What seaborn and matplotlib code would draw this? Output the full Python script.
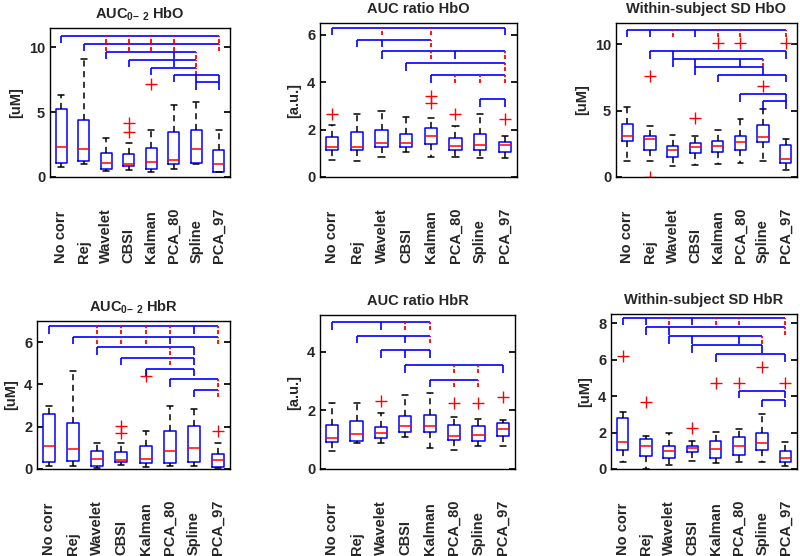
import numpy as np
import pandas as pd
import matplotlib
matplotlib.use("Agg")
import matplotlib.pyplot as plt
import seaborn as sns

methods = ["No corr", "Rej", "Wavelet", "CBSI", "Kalman", "PCA_80", "Spline", "PCA_97"]

# box summaries per method: [low whisker, q1, median, q3, high whisker]
auc_hbo_box = [[0.75, 1.10, 2.31, 5.26, 6.30], [1.00, 1.20, 2.13, 4.41, 9.10],
               [0.46, 0.64, 1.10, 1.85, 3.00], [0.56, 0.85, 1.00, 1.77, 2.64],
               [0.38, 0.64, 1.13, 2.26, 3.64], [0.59, 0.97, 1.33, 3.46, 5.56],
               [0.97, 1.08, 2.13, 3.59, 5.77], [0.35, 0.38, 1.03, 2.05, 3.59]]
auc_hbo_out = [[], [], [], [4.15, 3.46], [7.15], [], [], []]

ratio_hbo_box = [[0.73, 1.12, 1.28, 1.70, 2.20], [0.67, 1.12, 1.26, 1.92, 2.65],
                 [0.86, 1.28, 1.44, 2.00, 2.79], [1.05, 1.26, 1.44, 1.80, 2.54],
                 [0.86, 1.39, 1.72, 2.06, 2.51], [0.86, 1.12, 1.32, 1.63, 2.16],
                 [0.80, 1.12, 1.37, 1.81, 2.65], [0.81, 1.05, 1.35, 1.49, 1.74]]
ratio_hbo_out = [[2.65], [], [], [], [3.42, 3.11], [2.65], [], [2.44]]

sd_hbo_box = [[1.24, 2.69, 3.11, 3.98, 5.30], [1.24, 2.06, 2.86, 3.06, 3.86],
              [0.82, 1.47, 2.06, 2.36, 3.18], [0.87, 1.79, 2.24, 2.54, 3.11],
              [1.00, 1.92, 2.31, 2.74, 3.56], [1.07, 2.04, 2.66, 3.06, 4.40],
              [1.24, 2.61, 2.99, 3.91, 5.10], [0.50, 1.02, 1.34, 2.41, 2.86]]
sd_hbo_out = [[], [7.59, 0.0], [], [4.48], [10.12], [10.12], [6.89], [10.12]]

auc_hbr_box = [[0.14, 0.32, 1.09, 2.60, 2.96], [0.14, 0.40, 0.95, 2.17, 4.62],
               [0.06, 0.16, 0.46, 0.87, 1.22], [0.19, 0.35, 0.43, 0.82, 1.25],
               [0.08, 0.27, 0.46, 1.09, 1.80], [0.14, 0.30, 0.85, 1.82, 2.96],
               [0.14, 0.32, 0.98, 2.04, 2.83], [0.03, 0.11, 0.43, 0.71, 1.25]]
auc_hbr_out = [[], [], [], [2.04, 1.69], [4.38], [], [], [1.82]]

ratio_hbr_box = [[0.61, 0.93, 1.06, 1.49, 2.25], [0.87, 0.95, 1.21, 1.63, 2.25],
                 [0.87, 1.07, 1.24, 1.44, 1.91], [1.10, 1.27, 1.47, 1.81, 2.53],
                 [0.72, 1.27, 1.47, 1.85, 2.60], [0.64, 0.98, 1.12, 1.49, 1.77],
                 [0.79, 0.95, 1.15, 1.48, 1.72], [0.79, 1.13, 1.38, 1.57, 1.66]]
ratio_hbr_out = [[], [], [2.32], [], [], [2.25], [2.25], [2.47]]

sd_hbr_box = [[0.40, 1.05, 1.49, 2.82, 3.10], [0.00, 0.73, 1.27, 1.64, 1.82],
              [0.22, 0.58, 1.00, 1.24, 2.00], [0.45, 0.91, 1.13, 1.24, 1.55],
              [0.31, 0.58, 1.09, 1.55, 2.04], [0.40, 0.76, 1.24, 1.73, 2.22],
              [0.40, 1.05, 1.42, 1.96, 3.00], [0.18, 0.40, 0.58, 1.00, 1.49]]
sd_hbr_out = [[6.22], [3.67], [], [2.24], [4.73], [4.73], [5.60], [4.73]]

# significance brackets: (height, mark per method: b = blue, r = red, . = none)
auc_hbo_sig = [(10.9, "b.rrrr.r"), (10.3, ".brrrr.r"), (9.65, "..b..br."),
               (9.05, "...b.br."), (8.45, "....b.r."), (7.9, ".....bbb"),
               (7.3, "......bb")]
ratio_hbo_sig = [(6.3, "b.r.r..b"), (5.8, ".bb.r..."), (5.3, "..b.rb.r"),
                 (4.8, "...b...r"), (4.3, "....brrr"), (3.3, "......bb")]
sd_hbo_sig = [(11.1, "bbrbrr.r"), (9.5, ".bb....b"), (8.9, "..bb.br."),
              (8.3, "...b..b."), (7.7, "....b..b"), (6.25, ".....b.b"),
              (5.7, "......bb")]
auc_hbr_sig = [(6.75, "b.rrrrbr"), (6.25, ".brrrb.r"), (5.75, "..b..rb."),
               (5.25, "...b.rb."), (4.75, "....b.b."), (4.25, ".....b.r"),
               (3.75, "......br")]
ratio_hbr_sig = [(5.0, "b.brr..."), (4.55, ".b.br..."), (4.05, "..bbb..."),
                 (3.55, "...b.rrb"), (3.05, "....brr.")]
sd_hbr_sig = [(8.3, "bbrbrr.r"), (7.8, ".bb....r"), (7.3, "..bb.br."),
              (6.8, "...b..b."), (6.3, "....b..b"), (4.3, ".....b.b"),
              (3.8, "......bb")]

W, H = 800, 556


def rect(x0, y0, x1, y1):
    return [x0 / W, 1 - y1 / H, (x1 - x0) / W, (y1 - y0) / H]


panels = [
    (r"AUC$_{\mathbf{0{-}\ 2}}$ HbO", "[uM]", auc_hbo_box, auc_hbo_out, auc_hbo_sig,
     11.5, [0, 5, 10], rect(50, 28, 230, 177)),
    ("AUC ratio HbO", "[a.u.]", ratio_hbo_box, ratio_hbo_out, ratio_hbo_sig,
     6.5, [0, 2, 4, 6], rect(320, 23, 517, 177)),
    ("Within-subject SD HbO", "[uM]", sd_hbo_box, sd_hbo_out, sd_hbo_sig,
     11.6, [0, 5, 10], rect(616, 23, 797, 177)),
    (r"AUC$_{\mathbf{0{-}\ 2}}$ HbR", "[uM]", auc_hbr_box, auc_hbr_out, auc_hbr_sig,
     7.0, [0, 2, 4, 6], rect(37, 321, 230, 469)),
    ("AUC ratio HbR", "[a.u.]", ratio_hbr_box, ratio_hbr_out, ratio_hbr_sig,
     5.25, [0, 2, 4], rect(320, 315, 515, 469)),
    ("Within-subject SD HbR", "[uM]", sd_hbr_box, sd_hbr_out, sd_hbr_sig,
     8.5, [0, 2, 4, 6, 8], rect(611, 314, 797, 469)),
]

sns.set_theme(style="white")
plt.rcParams["font.family"] = ["Liberation Sans", "DejaVu Sans"]
plt.rcParams["font.weight"] = "bold"
plt.rcParams["axes.titleweight"] = "bold"
plt.rcParams["axes.labelweight"] = "bold"
plt.rcParams["mathtext.fontset"] = "custom"
plt.rcParams["mathtext.rm"] = "Liberation Sans:bold"
plt.rcParams["mathtext.bf"] = "Liberation Sans:bold"
plt.rcParams["axes.edgecolor"] = "black"
plt.rcParams["axes.linewidth"] = 1.0

fig = plt.figure(figsize=(W / 100, H / 100), dpi=100)

for title, ylab, box, out, sig, ymax, yticks, pos in panels:
    ax = fig.add_axes(pos)
    df = pd.DataFrame({"method": np.repeat(methods, 5), "value": np.ravel(box)})
    sns.boxplot(data=df, x="method", y="value", order=methods, ax=ax,
                whis=(0, 100), width=0.5, fill=False, color="blue",
                linewidth=1.1, showfliers=False,
                medianprops=dict(color="red"),
                whiskerprops=dict(color="black", linestyle=(0, (4, 3))),
                capprops=dict(color="black"))

    # outliers
    for i, vals in enumerate(out):
        if vals:
            ax.plot([i] * len(vals), vals, "+", color="red", ms=8, mew=1)

    # brackets
    drop = 0.05 * ymax
    for y, marks in sig:
        idx = [i for i, m in enumerate(marks) if m != "."]
        ax.hlines(y, idx[0], idx[-1], color="blue", lw=1.2)
        for i in idx:
            if marks[i] == "r":
                ax.vlines(i, y - drop, y, color="red", lw=1.3,
                          linestyle=(0, (2.2, 1.0)))
            else:
                ax.vlines(i, y - drop, y, color="blue", lw=1.2)

    ax.set_xlim(-0.5, 7.5)
    ax.set_ylim(0, ymax)
    ax.set_yticks(yticks)
    ax.set_xticks(range(len(methods)))
    ax.set_xticklabels(methods, rotation=90, va="bottom", ha="center", fontsize=10.5)
    ax.tick_params(axis="x", length=0, pad=62)
    ax.tick_params(axis="y", direction="in", left=True, right=True, length=4,
                   labelsize=10.5, color="black")
    ax.set_xlabel("")
    ax.set_ylabel(ylab, fontsize=10.5)
    ax.set_title(title, fontsize=10.5, pad=7)
    for s in ax.spines.values():
        s.set_visible(True)
        s.set_color("black")

fig.savefig("out.png", dpi=100)
